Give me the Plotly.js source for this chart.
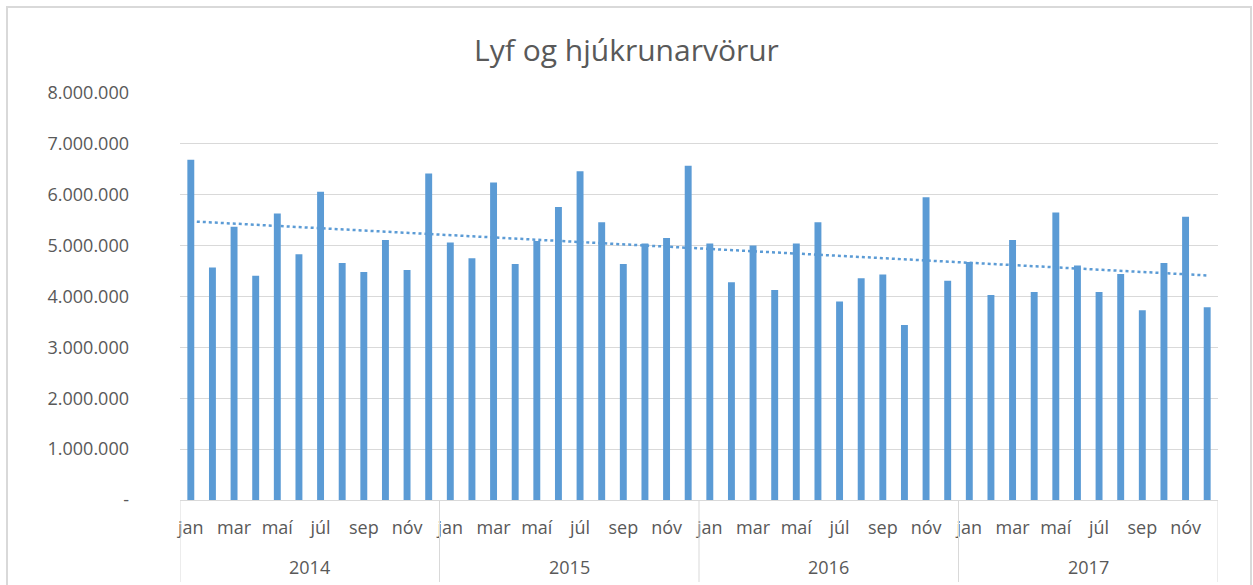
<!DOCTYPE html>
<html>
<head>
<meta charset="utf-8">
<script src="https://cdn.plot.ly/plotly-3.0.1.min.js"></script>
<style>
  html, body { margin: 0; padding: 0; background: #ffffff; }
  #chart { width: 1253px; height: 585px; }
</style>
</head>
<body>
<div id="chart"></div>
<script>
// ---- Data ----
const years = ['2014', '2015', '2016', '2017'];
const months = ['jan', 'feb', 'mar', 'apr', 'maí', 'jún', 'júl', 'ágú', 'sep', 'okt', 'nóv', 'des'];
const values2014 = [6690000, 4570000, 5370000, 4410000, 5630000, 4830000, 6060000, 4660000, 4480000, 5110000, 4520000, 6420000];
const values2015 = [5060000, 4750000, 6240000, 4640000, 5090000, 5760000, 6460000, 5460000, 4640000, 5040000, 5150000, 6570000];
const values2016 = [5040000, 4280000, 5000000, 4130000, 5040000, 5460000, 3900000, 4360000, 4430000, 3440000, 5950000, 4310000];
const values2017 = [4680000, 4030000, 5110000, 4090000, 5650000, 4610000, 4090000, 4440000, 3730000, 4660000, 5570000, 3790000];
const yTickVals = [0, 1000000, 2000000, 3000000, 4000000, 5000000, 6000000, 7000000, 8000000];
const yTickText = ['-', '1.000.000', '2.000.000', '3.000.000', '4.000.000', '5.000.000', '6.000.000', '7.000.000', '8.000.000'];
const titleText = 'Lyf og hjúkrunarvörur';

// ---- Build series ----
const allValues = [].concat(values2014, values2015, values2016, values2017);
const xIdx = allValues.map((_, i) => i);
const monthLabels = [];
years.forEach(() => months.forEach(m => monthLabels.push(m)));

// x tick labels every second month
const tickVals = xIdx.filter(i => i % 2 === 0);
const tickText = tickVals.map(i => monthLabels[i]);

// linear trendline (least squares) computed from the data
const n = allValues.length;
const mx = xIdx.reduce((a, b) => a + b, 0) / n;
const my = allValues.reduce((a, b) => a + b, 0) / n;
let sxy = 0, sxx = 0;
for (let i = 0; i < n; i++) { sxy += (xIdx[i] - mx) * (allValues[i] - my); sxx += (xIdx[i] - mx) ** 2; }
const slope = sxy / sxx;
const intercept = my - slope * mx;
const trendX = [xIdx[0], xIdx[n - 1]];
const trendY = trendX.map(x => intercept + slope * x);

const textColor = '#595959';
const gridColor = '#d9d9d9';
const barColor = '#5b9bd5';
const fontFam = '"Open Sans", "DejaVu Sans", sans-serif';

const traces = [
  {
    type: 'bar', x: xIdx, y: allValues,
    marker: { color: barColor, line: { width: 0 } },
    hoverinfo: 'y', showlegend: false
  },
  {
    type: 'scatter', mode: 'lines', x: trendX, y: trendY,
    line: { color: barColor, width: 2.5, dash: 'dot' },
    hoverinfo: 'skip', showlegend: false
  }
];

// plot geometry for paper conversions
const W = 1253, H = 585, L = 180, R = 35, T = 93, B = 85;
const pw = W - L - R, ph = H - T - B;
const px2x = px => (px - L) / pw;
const px2y = py => (H - B - py) / ph;

const shapes = [];
// year dividers
for (let k = 0; k <= years.length; k++) {
  shapes.push({
    type: 'line', xref: 'x', yref: 'paper',
    x0: k * 12 - 0.5, x1: k * 12 - 0.5, y0: 0, y1: px2y(582),
    line: { color: gridColor, width: 1 }
  });
}
// outer chart border
shapes.push({
  type: 'rect', xref: 'paper', yref: 'paper',
  x0: px2x(7), x1: px2x(1251), y0: px2y(7), y1: px2y(600),
  line: { color: gridColor, width: 2 }, fillcolor: 'rgba(0,0,0,0)'
});

const annotations = years.map((yr, k) => ({
  xref: 'x', yref: 'paper', x: k * 12 + 5.5, y: px2y(567),
  text: yr, showarrow: false, xanchor: 'center', yanchor: 'middle',
  font: { family: fontFam, size: 18, color: textColor }
}));

const layout = {
  width: W, height: H,
  margin: { l: L, r: R, t: T, b: B },
  paper_bgcolor: '#ffffff', plot_bgcolor: '#ffffff',
  font: { family: fontFam, color: textColor },
  title: {
    text: titleText, x: 0.5, xanchor: 'center', xref: 'container',
    y: 1 - 50 / H, yanchor: 'middle', yref: 'container',
    font: { family: fontFam, size: 30, color: textColor }
  },
  bargap: 0.68,
  xaxis: {
    range: [-0.5, 47.5], tickmode: 'array', tickvals: tickVals, ticktext: tickText,
    showgrid: false, zeroline: false, showline: true, linecolor: gridColor, linewidth: 1,
    ticks: '', ticklabelstandoff: 11,
    tickfont: { family: fontFam, size: 18, color: textColor }
  },
  yaxis: {
    range: [0, 8000000], tickmode: 'array', tickvals: yTickVals, ticktext: yTickText,
    showgrid: true, gridcolor: gridColor, gridwidth: 1, zeroline: false, showline: false,
    ticks: '', ticklabelstandoff: 50,
    tickfont: { family: fontFam, size: 18, color: textColor }
  },
  shapes: shapes,
  annotations: annotations
};

Plotly.newPlot('chart', traces, layout, { displayModeBar: false, staticPlot: true });
</script>
</body>
</html>
